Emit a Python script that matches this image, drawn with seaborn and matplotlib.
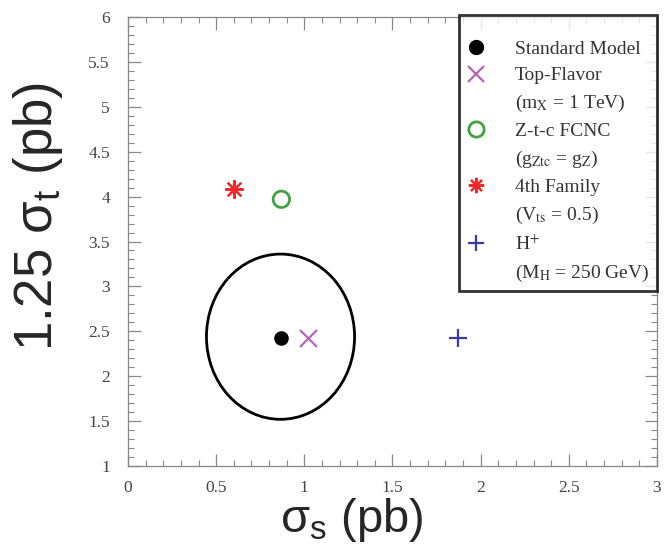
import numpy as np
import pandas as pd
import matplotlib
matplotlib.use("Agg")
import matplotlib.pyplot as plt
import seaborn as sns
from matplotlib.patches import Ellipse
from matplotlib.lines import Line2D
from matplotlib.ticker import MultipleLocator

# data
models = ["Standard Model", "Top-Flavor", "Z-t-c FCNC", "4th Family", "H$^{+}$"]
sigma_s = [0.87, 1.02, 0.87, 0.60, 1.87]
sigma_t = [2.42, 2.42, 3.97, 4.08, 2.42]
sub_labels = ["", r"(m$_{\rm X}$ = 1 TeV)", r"(g$_{\rm Ztc}$ = g$_{\rm Z}$)",
              r"(V$_{\rm ts}$ = 0.5)", r"(M$_{\rm H}$ = 250 GeV)"]
colors = ["black", "#b565b8", "#3fa33f", "#ee2a2a", "#3a3aa0"]
markers = ["o", "x", "o", (8, 2, 0), "+"]
# uncertainty ellipse around SM
ell_center = [0.865, 2.44]
ell_halfwidths = [0.42, 0.92]
xticks = [0, 0.5, 1, 1.5, 2, 2.5, 3]
xticklabels = ["0", "0.5", "1", "1.5", "2", "2.5", "3"]
yticks = [1, 1.5, 2, 2.5, 3, 3.5, 4, 4.5, 5, 5.5, 6]
yticklabels = ["1", "1.5", "2", "2.5", "3", "3.5", "4", "4.5", "5", "5.5", "6"]

df = pd.DataFrame({"model": models, "s": sigma_s, "t": sigma_t})

sns.set_style("ticks")
plt.rcParams["mathtext.fontset"] = "custom"
plt.rcParams["mathtext.rm"] = "Liberation Sans"
plt.rcParams["mathtext.it"] = "Liberation Sans:italic"

fig = plt.figure(figsize=(6.68, 5.5), dpi=100)
ax = fig.add_axes([0.1916, 0.1527, 0.7919, 0.8164])

handles = []
labels = []
for i, m in enumerate(models):
    sub = df[df.model == m]
    if markers[i] in ("x", "+", (8, 2, 0)):
        sns.scatterplot(data=sub, x="s", y="t", marker=markers[i], color=colors[i],
                        s=150, linewidth=1.6, ax=ax, legend=False)
        h = Line2D([], [], marker=markers[i], color=colors[i], ls="", ms=11, mew=1.6)
    elif i == 0:
        sns.scatterplot(data=sub, x="s", y="t", marker="o", color=colors[i],
                        s=110, linewidth=0, ax=ax, legend=False)
        h = Line2D([], [], marker="o", color=colors[i], ls="", ms=10)
    else:
        sns.scatterplot(data=sub, x="s", y="t", marker="o", facecolor="none",
                        edgecolor=colors[i], s=140, linewidth=2.0, ax=ax, legend=False)
        h = Line2D([], [], marker="o", color=colors[i], mfc="none", ls="", ms=11, mew=2.0)
    handles.append(h)
    labels.append(m)
    if sub_labels[i]:
        handles.append(Line2D([], [], ls="", marker=""))
        labels.append(sub_labels[i])

ell = Ellipse(ell_center, 2 * ell_halfwidths[0], 2 * ell_halfwidths[1],
              fill=False, edgecolor="black", linewidth=2.0)
ax.add_patch(ell)

ax.set_xlim(0, 3)
ax.set_ylim(1, 6)
ax.xaxis.set_minor_locator(MultipleLocator(0.1))
ax.yaxis.set_minor_locator(MultipleLocator(0.1))
ax.set_xticks(xticks)
ax.set_xticklabels(xticklabels)
ax.set_yticks(yticks)
ax.set_yticklabels(yticklabels)
ax.tick_params(which="both", direction="in", top=True, right=True, color="#888888")
ax.tick_params(which="major", length=9, width=0.9)
ax.tick_params(which="minor", length=4, width=0.8)
for lab in ax.get_xticklabels() + ax.get_yticklabels():
    lab.set_fontfamily("Liberation Serif")
    lab.set_fontsize(12.5)
    lab.set_color("#444444")
ax.tick_params(axis="x", pad=10)
ax.tick_params(axis="y", pad=13)
for sp in ax.spines.values():
    sp.set_color("#888888")
    sp.set_linewidth(0.9)

ax.set_xlabel("σ$_{\\rm s}$ (pb)", fontsize=34, fontfamily="Liberation Sans",
              math_fontfamily="custom", va="center", ha="center")
ax.xaxis.set_label_coords(0.423, -0.12)
ax.set_ylabel("1.25 σ$_{\\rm t}$ (pb)", fontsize=38, fontfamily="Liberation Sans",
              math_fontfamily="custom", va="center", ha="center")
ax.yaxis.set_label_coords(-0.17, 0.555)

leg = ax.legend(handles, labels, loc="upper right", bbox_to_anchor=(1.0, 1.004),
                prop={"family": "Liberation Serif", "size": 14}, frameon=True,
                fancybox=False, edgecolor="black", labelspacing=0.44,
                handletextpad=1.5, borderpad=0.4, handlelength=0.95, borderaxespad=0,
                title=" ", title_fontsize=5.5)
leg.get_frame().set_linewidth(2.0)
for t in leg.get_texts():
    t.set_color("#333333")
    t.set_math_fontfamily("stix")

fig.savefig("out.png", dpi=100, facecolor="white")
